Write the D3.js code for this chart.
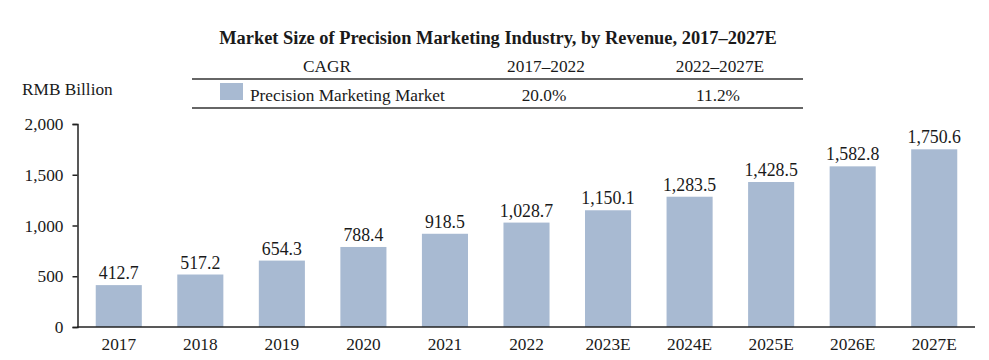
<!DOCTYPE html>
<html><head><meta charset="utf-8">
<script src="https://cdn.jsdelivr.net/npm/d3@7"></script>
<style>body{margin:0;background:#fff}svg{display:block}text{font-family:"Liberation Serif","Times New Roman",serif;fill:#1a1a1a}</style>
</head><body><svg id="c" width="989" height="360"></svg>
<script>
const categories = ["2017","2018","2019","2020","2021","2022","2023E","2024E","2025E","2026E","2027E"];
const values = [412.7,517.2,654.3,788.4,918.5,1028.7,1150.1,1283.5,1428.5,1582.8,1750.6];
const yTicks = [0,500,1000,1500,2000];
const cagrPeriods = ["2017–2022","2022–2027E"];
const cagrValues = ["20.0%","11.2%"];
const seriesName = "Precision Marketing Market";

const svg = d3.select("#c");
const barColor = "#a8bad2";
const fs = 17.3;
const x = d3.scaleBand().domain(categories).range([78, 975]).paddingInner(0.435).paddingOuter(0.2175);
const y = d3.scaleLinear().domain([0, 2000]).range([327, 124]);

svg.append("text").attr("x", 498).attr("y", 44).attr("text-anchor","middle")
  .attr("font-size", 18.4).attr("font-weight","bold").text("Market Size of Precision Marketing Industry, by Revenue, 2017–2027E");

svg.append("text").attr("x", 22).attr("y", 95).attr("font-size", fs).text("RMB Billion");

// CAGR table
svg.append("text").attr("x", 327).attr("y", 72).attr("text-anchor","middle").attr("font-size",fs).text("CAGR");
const colX = [546, 720];
cagrPeriods.forEach((p,i)=>svg.append("text").attr("x", colX[i]).attr("y", 72).attr("text-anchor","middle").attr("font-size",fs).text(p));
svg.append("line").attr("x1",192).attr("x2",803).attr("y1",79).attr("y2",79).attr("stroke","#333").attr("stroke-width",1.6);
svg.append("line").attr("x1",192).attr("x2",803).attr("y1",108).attr("y2",108).attr("stroke","#333").attr("stroke-width",1.6);
svg.append("rect").attr("x",220).attr("y",83).attr("width",23).attr("height",17).attr("fill",barColor);
svg.append("text").attr("x",250).attr("y",101).attr("font-size",fs).text(seriesName);
cagrValues.forEach((v,i)=>svg.append("text").attr("x", colX[i]-2).attr("y", 101).attr("text-anchor","middle").attr("font-size",fs).text(v));

// bars
svg.selectAll("rect.bar").data(values).join("rect").attr("class","bar")
  .attr("x",(d,i)=>x(categories[i])).attr("width",x.bandwidth())
  .attr("y",d=>y(d)).attr("height",d=>y(0)-y(d)).attr("fill",barColor);
svg.selectAll("text.lbl").data(values).join("text").attr("class","lbl")
  .attr("x",(d,i)=>x(categories[i])+x.bandwidth()/2).attr("y",d=>y(d)-6)
  .attr("text-anchor","middle").attr("font-size",17.8).text(d=>d3.format(",.1f")(d));

// axes
const yAxis = svg.append("g").attr("transform","translate(77.5,0)")
  .call(d3.axisLeft(y).tickValues(yTicks).tickFormat(d3.format(",")).tickSize(5).tickPadding(9));
yAxis.select(".domain").attr("stroke","#222").attr("stroke-width",1.5);
yAxis.selectAll(".tick line").attr("stroke","#222").attr("stroke-width",1.5);
yAxis.selectAll(".tick text").attr("font-size",fs).attr("font-family","Liberation Serif").attr("fill","#1a1a1a");

const xAxis = svg.append("g").attr("transform","translate(0,327)")
  .call(d3.axisBottom(x).tickSize(0).tickPadding(10));
xAxis.select(".domain").attr("d","M77,0H975").attr("stroke","#222").attr("stroke-width",1.5);
xAxis.selectAll(".tick text").attr("font-size",fs).attr("font-family","Liberation Serif").attr("fill","#1a1a1a").attr("dy","0.75em");
</script></body></html>
